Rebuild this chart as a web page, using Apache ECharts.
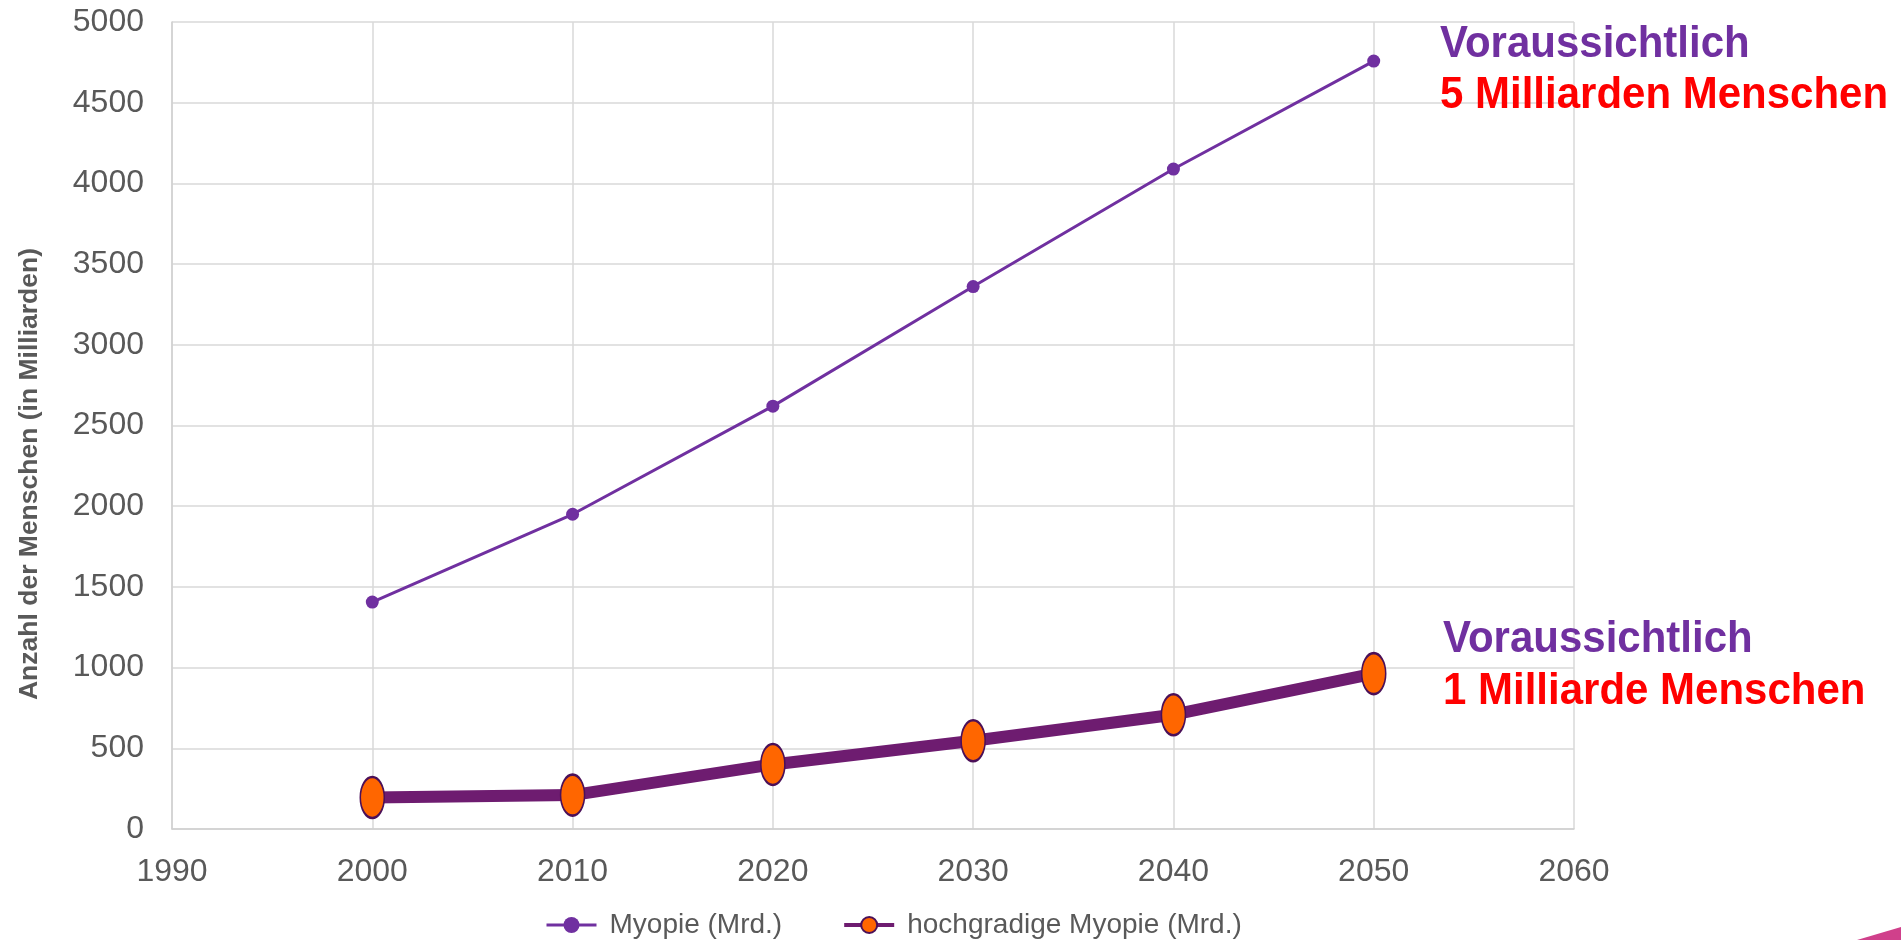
<!DOCTYPE html>
<html>
<head>
<meta charset="utf-8">
<script src="https://cdn.jsdelivr.net/npm/echarts@6/dist/echarts.min.js"></script>
<style>
html,body{margin:0;padding:0;background:#fff;}
#chart{width:1901px;height:940px;}
</style>
</head>
<body>
<div id="chart"></div>
<script>
const years = [2000, 2010, 2020, 2030, 2040, 2050];
const myopia = [1406, 1950, 2620, 3361, 4089, 4758];
const highMyopia = [195, 210, 400, 547, 708, 963];
const xTicks = [1990, 2000, 2010, 2020, 2030, 2040, 2050, 2060];
const yTicks = [0, 500, 1000, 1500, 2000, 2500, 3000, 3500, 4000, 4500, 5000];
const seriesNames = ['Myopie (Mrd.)', 'hochgradige Myopie (Mrd.)'];
const yAxisTitle = 'Anzahl der Menschen (in Milliarden)';
const note1 = ['Voraussichtlich', '5 Milliarden Menschen'];
const note2 = ['Voraussichtlich', '1 Milliarde Menschen'];

const chart = echarts.init(document.getElementById('chart'), null, {renderer: 'canvas'});
const FONT = 'Arial, "Liberation Sans", sans-serif';
const grid = '#D9D9D9';

chart.setOption({
  animation: false,
  backgroundColor: '#ffffff',
  textStyle: {fontFamily: FONT},
  grid: {left: 172, right: 327, top: 22, bottom: 111, containLabel: false},
  xAxis: {
    type: 'value',
    min: xTicks[0], max: xTicks[xTicks.length - 1], interval: xTicks[1] - xTicks[0],
    axisLine: {show: true, lineStyle: {color: '#D0D0D0', width: 1.5}},
    axisTick: {show: false},
    axisLabel: {color: '#595959', fontSize: 32, margin: 27, fontFamily: FONT, formatter: v => String(v)},
    splitLine: {show: true, lineStyle: {color: grid, width: 1.5}}
  },
  yAxis: {
    type: 'value',
    min: yTicks[0], max: yTicks[yTicks.length - 1], interval: yTicks[1] - yTicks[0],
    axisLine: {show: true, lineStyle: {color: '#D0D0D0', width: 1.5}},
    axisTick: {show: false},
    axisLabel: {color: '#595959', fontSize: 32, margin: 28, fontFamily: FONT, formatter: v => String(v)},
    splitLine: {show: true, lineStyle: {color: grid, width: 1.5}}
  },
  legend: {
    left: 540, top: 906,
    itemWidth: 50, itemHeight: 20, itemGap: 60,
    textStyle: {color: '#595959', fontSize: 28, fontFamily: FONT, padding: [0, 0, 0, 8]},
    data: [
      {name: seriesNames[0], lineStyle: {width: 3}},
      {name: seriesNames[1], lineStyle: {width: 4}}
    ]
  },
  series: [
    {
      name: seriesNames[0], type: 'line',
      data: years.map((y, i) => [y, myopia[i]]),
      symbol: 'circle', symbolSize: 13,
      lineStyle: {color: '#7030A0', width: 3},
      itemStyle: {color: '#7030A0'},
      z: 3
    },
    {
      name: seriesNames[1], type: 'line',
      data: years.map((y, i) => [y, highMyopia[i]]),
      symbol: 'circle', symbolSize: [24, 41],
      lineStyle: {color: '#6E1C70', width: 12},
      itemStyle: {color: '#FF6600', borderColor: '#4B1058', borderWidth: 2},
      z: 4
    }
  ],
  graphic: [
    {type: 'text', z: 100, rotation: Math.PI / 2, x: 30, y: 474,
      style: {text: yAxisTitle, fill: '#595959', font: 'bold 26.5px ' + FONT, align: 'center', verticalAlign: 'middle'}},
    {type: 'text', z: 100, x: 1440, y: 44.5, scaleY: 1.05, style: {text: note1[0], fill: '#7030A0', font: 'bold 42px ' + FONT, verticalAlign: 'middle'}},
    {type: 'text', z: 100, x: 1440, y: 96, scaleY: 1.05, style: {text: note1[1], fill: '#FF0000', font: 'bold 42px ' + FONT, verticalAlign: 'middle'}},
    {type: 'text', z: 100, x: 1443, y: 640, scaleY: 1.05, style: {text: note2[0], fill: '#7030A0', font: 'bold 42px ' + FONT, verticalAlign: 'middle'}},
    {type: 'text', z: 100, x: 1443, y: 692, scaleY: 1.05, style: {text: note2[1], fill: '#FF0000', font: 'bold 42px ' + FONT, verticalAlign: 'middle'}},
    {type: 'polygon', z: 100, shape: {points: [[1857, 940], [1901, 927], [1901, 940]]}, style: {fill: '#D0408B'}}
  ]
});
</script>
</body>
</html>
